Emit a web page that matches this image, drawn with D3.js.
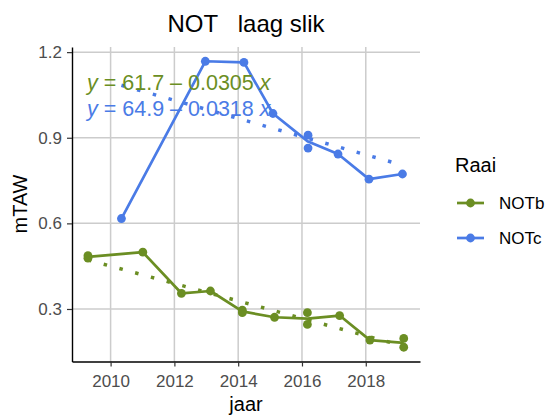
<!DOCTYPE html>
<html>
<head>
<meta charset="utf-8">
<title>NOT laag slik</title>
<script src="https://d3js.org/d3.v7.min.js"></script>
<style>
body { margin: 0; padding: 0; background: white; }
svg text { font-family: "Liberation Sans", Arial, sans-serif; }
</style>
</head>
<body>
<svg id="chart" width="550" height="417"></svg>
<script>
// data
var series = ["NOTb", "NOTc"];
var colors = ["#6b8e23", "#4a7be6"];

var yearsB = [2009.29, 2009.29, 2011.01, 2012.22, 2013.13, 2014.13, 2014.13, 2015.14, 2016.17, 2016.17, 2017.18, 2018.13, 2019.19, 2019.19];
var valsB  = [0.487, 0.478, 0.499, 0.355, 0.363, 0.296, 0.287, 0.271, 0.287, 0.246, 0.277, 0.191, 0.197, 0.166];

var yearsC = [2010.34, 2012.97, 2014.18, 2015.09, 2016.19, 2016.19, 2017.13, 2018.10, 2019.15];
var valsC  = [0.617, 1.168, 1.164, 0.985, 0.909, 0.864, 0.843, 0.755, 0.773];

// linear trend end points (dotted)
var trendB = [[2009.29, 0.472], [2019.19, 0.170]];
var trendC = [[2010.34, 1.084], [2019.15, 0.804]];

var equations = ["61.7 \u2013 0.0305 ", "64.9 \u2013 0.0318 "];

var xTicks = [2010, 2012, 2014, 2016, 2018];
var yTicks = [0.3, 0.6, 0.9, 1.2];

var svg = d3.select("#chart");

var x = d3.scaleLinear().domain([2008.79, 2019.70]).range([72, 420]);
var y = d3.scaleLinear().domain([0.116, 1.218]).range([361.5, 47]);

// grid
var grid = svg.append("g");
grid.selectAll(".gx").data(xTicks).enter().append("line")
  .attr("x1", function(d) { return x(d); }).attr("x2", function(d) { return x(d); })
  .attr("y1", y.range()[1]).attr("y2", y.range()[0])
  .attr("stroke", "#cccccc").attr("stroke-width", 1.5);
grid.selectAll(".gy").data(yTicks).enter().append("line")
  .attr("y1", function(d) { return y(d); }).attr("y2", function(d) { return y(d); })
  .attr("x1", x.range()[0]).attr("x2", x.range()[1])
  .attr("stroke", "#cccccc").attr("stroke-width", 1.5);

// axes
var xAxis = svg.append("g")
  .attr("transform", "translate(0," + y.range()[0] + ")")
  .call(d3.axisBottom(x).tickValues(xTicks).tickFormat(d3.format("d")).tickSize(5).tickSizeOuter(0));
var yAxis = svg.append("g")
  .attr("transform", "translate(" + x.range()[0] + ",0)")
  .call(d3.axisLeft(y).tickValues(yTicks).tickFormat(d3.format(".1f")).tickSize(5).tickSizeOuter(0));

[xAxis, yAxis].forEach(function(a) {
  a.select(".domain").attr("stroke", "#000").attr("stroke-width", 1.4);
  a.selectAll(".tick line").attr("stroke", "#333").attr("stroke-width", 1.2);
  a.selectAll(".tick text").attr("fill", "#4d4d4d").style("font-size", "17px")
   .style("font-family", "'Liberation Sans', Arial, sans-serif");
});
xAxis.selectAll(".tick text").attr("dy", "1.0em");
yAxis.selectAll(".tick text").attr("dx", "-2");

// build series
var sets = [
  { name: series[0], color: colors[0], pts: yearsB.map(function(d, i) { return [d, valsB[i]]; }), trend: trendB },
  { name: series[1], color: colors[1], pts: yearsC.map(function(d, i) { return [d, valsC[i]]; }), trend: trendC }
];

var line = d3.line().x(function(d) { return x(d[0]); }).y(function(d) { return y(d[1]); });

sets.forEach(function(s) {
  // line through the mean per survey date
  var means = Array.from(d3.rollup(s.pts, function(v) { return d3.mean(v, function(p) { return p[1]; }); }, function(p) { return p[0]; }))
    .sort(function(a, b) { return a[0] - b[0]; });

  svg.append("path").datum(s.trend)
    .attr("d", line).attr("fill", "none")
    .attr("stroke", s.color).attr("stroke-width", 3.5)
    .attr("stroke-dasharray", "3.5 12.8");

  svg.append("path").datum(means)
    .attr("d", line).attr("fill", "none")
    .attr("stroke", s.color).attr("stroke-width", 2.7)
    .attr("stroke-linejoin", "round");

  svg.append("g").selectAll("circle").data(s.pts).enter().append("circle")
    .attr("cx", function(d) { return x(d[0]); })
    .attr("cy", function(d) { return y(d[1]); })
    .attr("r", 4.4)
    .attr("fill", s.color);
});

// equations
equations.forEach(function(eq, i) {
  var t = svg.append("text")
    .attr("x", 87).attr("y", 90 + i * 26)
    .attr("fill", colors[i])
    .style("font-size", "21.5px");
  t.append("tspan").style("font-style", "italic").text("y");
  t.append("tspan").text(" = " + eq);
  t.append("tspan").style("font-style", "italic").text("x");
});

// title and axis titles
svg.append("text")
  .attr("x", 246).attr("y", 32)
  .attr("text-anchor", "middle")
  .style("font-size", "24px")
  .style("white-space", "pre")
  .attr("xml:space", "preserve")
  .text("NOT   laag slik");

svg.append("text")
  .attr("x", 246).attr("y", 411)
  .attr("text-anchor", "middle")
  .style("font-size", "20px")
  .text("jaar");

svg.append("text")
  .attr("transform", "translate(27,204) rotate(-90)")
  .attr("text-anchor", "middle")
  .style("font-size", "20px")
  .text("mTAW");

// legend
var legend = svg.append("g");
legend.append("text")
  .attr("x", 455).attr("y", 172)
  .style("font-size", "20px")
  .text("Raai");

var items = legend.selectAll(".item").data(sets).enter().append("g")
  .attr("transform", function(d, i) { return "translate(0," + (203 + i * 35) + ")"; });
items.append("line")
  .attr("x1", 457).attr("x2", 484)
  .attr("stroke", function(d) { return d.color; })
  .attr("stroke-width", 2.7);
items.append("circle")
  .attr("cx", 470.5).attr("r", 4.4)
  .attr("fill", function(d) { return d.color; });
items.append("text")
  .attr("x", 499).attr("y", 6)
  .style("font-size", "17px")
  .text(function(d) { return d.name; });
</script>
</body>
</html>
